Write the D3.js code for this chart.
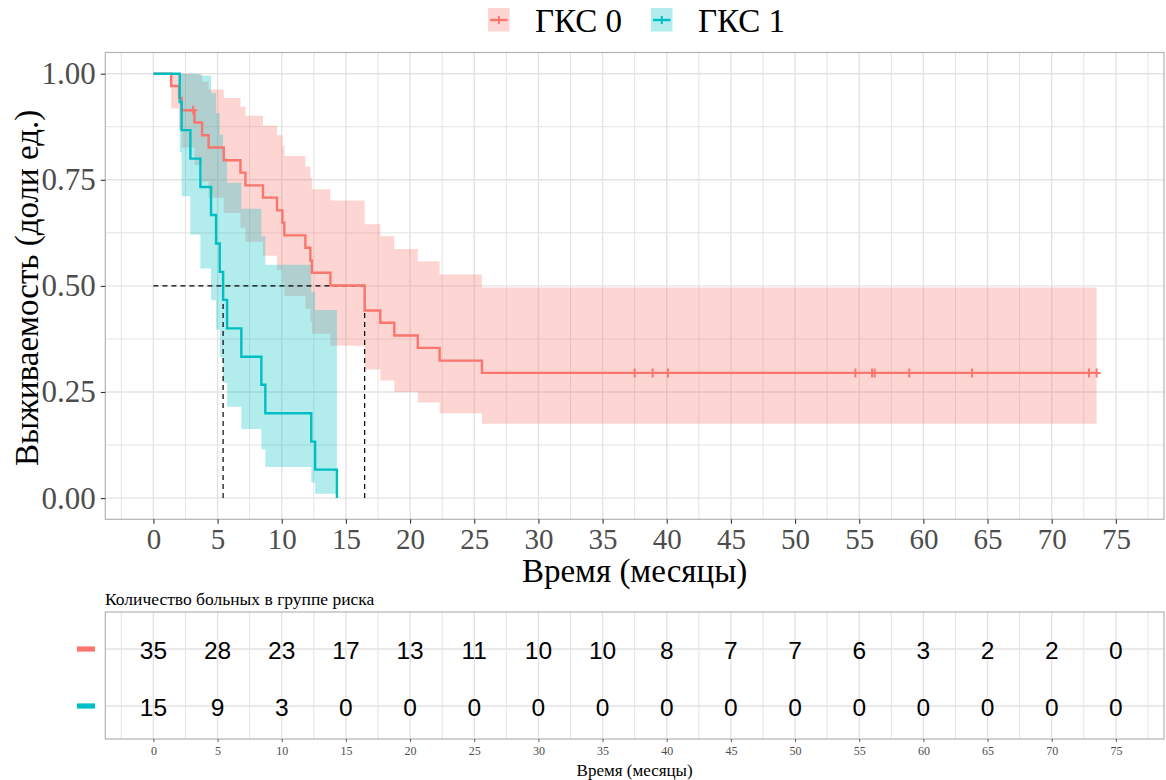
<!DOCTYPE html>
<html>
<head>
<meta charset="utf-8">
<script src="https://cdn.jsdelivr.net/npm/d3@7"></script>
<style>
  body { margin: 0; background: #fff; }
  svg { display: block; }
</style>
</head>
<body>
<svg id="chart" width="1166" height="780"></svg>
<script>
// ---- data ---------------------------------------------------------------
const groups = ["ГКС 0", "ГКС 1"];
const groupColors = ["#F8766D", "#00BFC4"];

// ГКС 0: event times (months), Kaplan–Meier survival and 95% CI per step
const timesG0 = [0, 1.38, 2.0, 2.2, 3.2, 3.79, 4.3, 5.48, 6.78, 7.17, 8.54, 9.63, 10.05, 10.2, 11.84, 12.23, 12.35, 13.79, 16.46, 17.68, 18.77, 20.6, 22.3, 25.6];
const survG0  = [1, 0.971, 0.943, 0.914, 0.885, 0.855, 0.826, 0.796, 0.767, 0.737, 0.708, 0.678, 0.649, 0.619, 0.590, 0.560, 0.531, 0.501, 0.442, 0.413, 0.383, 0.354, 0.324, 0.295];
const lowerG0 = [1, 0.918, 0.869, 0.826, 0.785, 0.746, 0.708, 0.672, 0.637, 0.604, 0.571, 0.538, 0.507, 0.476, 0.446, 0.416, 0.387, 0.359, 0.303, 0.277, 0.250, 0.225, 0.200, 0.175];
const upperG0 = [1, 1, 1, 1, 0.998, 0.981, 0.963, 0.943, 0.922, 0.901, 0.878, 0.855, 0.831, 0.806, 0.781, 0.755, 0.728, 0.701, 0.645, 0.617, 0.587, 0.558, 0.527, 0.496];
const censorG0 = [3.1, 37.5, 38.9, 40.1, 54.7, 56.0, 56.2, 58.9, 63.8, 72.9, 73.5];
const lastTimeG0 = 73.5;

// ГКС 1
const timesG1 = [0, 2.05, 2.2, 2.88, 3.66, 4.49, 4.88, 5.17, 5.43, 5.74, 6.85, 8.41, 8.72, 12.3, 12.6, 14.3];
const survG1  = [1, 0.933, 0.867, 0.800, 0.733, 0.667, 0.600, 0.533, 0.467, 0.400, 0.333, 0.267, 0.200, 0.133, 0.067, 0];
const lowerG1 = [1, 0.815, 0.711, 0.621, 0.541, 0.466, 0.397, 0.332, 0.272, 0.215, 0.163, 0.115, 0.073, 0.037, 0.010, null];
const upperG1 = [1, 1, 1, 1, 0.995, 0.954, 0.907, 0.856, 0.802, 0.743, 0.682, 0.617, 0.550, 0.485, 0.443, null];
const censorG1 = [];
const lastTimeG1 = 14.3;

// number at risk
const riskTimes = [0, 5, 10, 15, 20, 25, 30, 35, 40, 45, 50, 55, 60, 65, 70, 75];
const riskG0 = [35, 28, 23, 17, 13, 11, 10, 10, 8, 7, 7, 6, 3, 2, 2, 0];
const riskG1 = [15, 9, 3, 0, 0, 0, 0, 0, 0, 0, 0, 0, 0, 0, 0, 0];

const xTicks = [0, 5, 10, 15, 20, 25, 30, 35, 40, 45, 50, 55, 60, 65, 70, 75];
const yTicks = [0, 0.25, 0.5, 0.75, 1];
const yTickLabels = ["0.00", "0.25", "0.50", "0.75", "1.00"];

const xTitle = "Время (месяцы)";
const yTitle = "Выживаемость (доли ед.)";
const tableTitle = "Количество больных в группе риска";

// ---- assemble per-group records ------------------------------------------
const curves = [
  { name: groups[0], color: groupColors[0], t: timesG0, s: survG0, lo: lowerG0, hi: upperG0, cens: censorG0, end: lastTimeG0, risk: riskG0 },
  { name: groups[1], color: groupColors[1], t: timesG1, s: survG1, lo: lowerG1, hi: upperG1, cens: censorG1, end: lastTimeG1, risk: riskG1 }
];
curves.forEach(c => {
  c.steps = c.t.map((t, i) => ({ t, s: c.s[i], lo: c.lo[i], hi: c.hi[i] }));
  const lastWithCI = c.steps.filter(d => d.lo != null);
  const tail = lastWithCI[lastWithCI.length - 1];
  c.band = lastWithCI.concat([{ t: c.end, lo: tail.lo, hi: tail.hi }]);
  const lastStep = c.steps[c.steps.length - 1];
  c.line = lastStep.t < c.end ? c.steps.concat([{ t: c.end, s: lastStep.s }]) : c.steps;
  const m = c.steps.find(d => d.s <= 0.5);
  c.median = m ? m.t : null;
  c.survAt = t => { let v = 1; c.steps.forEach(d => { if (d.t <= t) v = d.s; }); return v; };
});

// ---- layout ------------------------------------------------------------
const svg = d3.select("#chart");
const serif = "'Liberation Serif', 'Times New Roman', serif";
const sans = "'Liberation Sans', Arial, sans-serif";
const gridColor = "#E3E3E3";
const borderColor = "#B3B3B3";

const panel = { left: 105.3, right: 1164, top: 52.5, bottom: 519.3 };
const x = d3.scaleLinear().domain([-3.75, 78.75]).range([panel.left, panel.right]);
const y = d3.scaleLinear().domain([-0.05, 1.05]).range([panel.bottom, panel.top]);

// ---- main panel -----------------------------------------------------------
const main = svg.append("g");
svg.append("clipPath").attr("id", "clipMain")
  .append("rect").attr("x", panel.left).attr("y", panel.top)
  .attr("width", panel.right - panel.left).attr("height", panel.bottom - panel.top);

const minorX = xTicks.map(v => v + 2.5).concat([-2.5]);
const minorY = yTicks.slice(0, -1).map(v => v + 0.125);

const grid = main.append("g").attr("clip-path", "url(#clipMain)");
grid.selectAll(".mx").data(minorX).join("line")
  .attr("x1", d => x(d)).attr("x2", d => x(d))
  .attr("y1", panel.top).attr("y2", panel.bottom)
  .attr("stroke", gridColor).attr("stroke-width", 1);
grid.selectAll(".my").data(minorY).join("line")
  .attr("x1", panel.left).attr("x2", panel.right)
  .attr("y1", d => y(d)).attr("y2", d => y(d))
  .attr("stroke", gridColor).attr("stroke-width", 1);
grid.selectAll(".Mx").data(xTicks).join("line")
  .attr("x1", d => x(d)).attr("x2", d => x(d))
  .attr("y1", panel.top).attr("y2", panel.bottom)
  .attr("stroke", gridColor).attr("stroke-width", 1.4);
grid.selectAll(".My").data(yTicks).join("line")
  .attr("x1", panel.left).attr("x2", panel.right)
  .attr("y1", d => y(d)).attr("y2", d => y(d))
  .attr("stroke", gridColor).attr("stroke-width", 1.4);

const plot = main.append("g").attr("clip-path", "url(#clipMain)");

// confidence bands
const area = d3.area().curve(d3.curveStepAfter)
  .x(d => x(d.t)).y0(d => y(d.lo)).y1(d => y(d.hi));
plot.selectAll(".band").data(curves).join("path")
  .attr("d", c => area(c.band))
  .attr("fill", c => c.color).attr("fill-opacity", 0.3);

// median reference lines
const medians = curves.map(c => c.median).filter(m => m != null);
const dashG = plot.append("g").attr("stroke", "#000").attr("stroke-width", 1.2)
  .attr("stroke-dasharray", "5,4").attr("fill", "none");
dashG.append("line")
  .attr("x1", x(0)).attr("x2", x(d3.max(medians)))
  .attr("y1", y(0.5)).attr("y2", y(0.5));
dashG.selectAll(".vm").data(medians).join("line")
  .attr("x1", d => x(d)).attr("x2", d => x(d))
  .attr("y1", y(0.5)).attr("y2", y(0));

// survival step lines
const line = d3.line().curve(d3.curveStepAfter).x(d => x(d.t)).y(d => y(d.s));
plot.selectAll(".surv").data(curves).join("path")
  .attr("d", c => line(c.line))
  .attr("fill", "none").attr("stroke", c => c.color).attr("stroke-width", 2.4);

// censoring marks
curves.forEach(c => {
  plot.selectAll(null).data(c.cens).join("path")
    .attr("d", t => { const cx = x(t), cy = y(c.survAt(t)); return `M${cx - 4},${cy}H${cx + 4}M${cx},${cy - 4.5}V${cy + 4.5}`; })
    .attr("stroke", c.color).attr("stroke-width", 2).attr("fill", "none");
});

// panel border
main.append("rect")
  .attr("x", panel.left).attr("y", panel.top)
  .attr("width", panel.right - panel.left).attr("height", panel.bottom - panel.top)
  .attr("fill", "none").attr("stroke", borderColor).attr("stroke-width", 1.2);

// axes
const xAxis = main.append("g").attr("transform", `translate(0,${panel.bottom})`)
  .call(d3.axisBottom(x).tickValues(xTicks).tickSize(4.5).tickPadding(5));
const yAxis = main.append("g").attr("transform", `translate(${panel.left},0)`)
  .call(d3.axisLeft(y).tickValues(yTicks).tickSize(4.5).tickPadding(5)
    .tickFormat((d, i) => yTickLabels[i]));
[xAxis, yAxis].forEach(a => {
  a.select(".domain").remove();
  a.selectAll(".tick line").attr("stroke", "#333").attr("stroke-width", 1.1);
  a.selectAll(".tick text").attr("fill", "#4D4D4D").style("font-family", serif);
});
yAxis.selectAll(".tick text").style("font-size", "31px");
xAxis.selectAll(".tick text").style("font-size", "29px");

main.append("text")
  .attr("x", x(37.5)).attr("y", 582)
  .attr("text-anchor", "middle")
  .style("font-family", serif).style("font-size", "33px").attr("fill", "#000")
  .text(xTitle);
main.append("text")
  .attr("transform", `translate(38,${(panel.top + panel.bottom) / 2 + 2}) rotate(-90)`)
  .attr("text-anchor", "middle")
  .style("font-family", serif).style("font-size", "33px").attr("fill", "#000")
  .text(yTitle);

// ---- legend -----------------------------------------------------------------
const legendPos = [488, 651];
const legend = svg.append("g");
curves.forEach((c, i) => {
  const g = legend.append("g").attr("transform", `translate(${legendPos[i]},8)`);
  g.append("rect").attr("width", 21.5).attr("height", 23.5)
    .attr("fill", c.color).attr("fill-opacity", 0.3);
  g.append("path").attr("d", "M2,12H19.5")
    .attr("stroke", c.color).attr("stroke-width", 2.4);
  g.append("path").attr("d", "M6.8,12H14.8M10.8,8V16")
    .attr("stroke", c.color).attr("stroke-width", 2);
  g.append("text").attr("x", 47).attr("y", 23.5)
    .style("font-family", serif).style("font-size", "33px").attr("fill", "#000")
    .text(c.name);
});

// ---- risk table --------------------------------------------------------------
const tpanel = { left: 105.3, right: 1164, top: 612, bottom: 739 };
const yr = d3.scalePoint().domain(groups).range([649, 706]);
const table = svg.append("g");
svg.append("clipPath").attr("id", "clipTable")
  .append("rect").attr("x", tpanel.left).attr("y", tpanel.top)
  .attr("width", tpanel.right - tpanel.left).attr("height", tpanel.bottom - tpanel.top);

table.append("text").attr("x", 105).attr("y", 605)
  .style("font-family", serif).style("font-size", "17.5px").attr("fill", "#000")
  .text(tableTitle);

const tgrid = table.append("g").attr("clip-path", "url(#clipTable)");
tgrid.selectAll(".tmx").data(minorX).join("line")
  .attr("x1", d => x(d)).attr("x2", d => x(d))
  .attr("y1", tpanel.top).attr("y2", tpanel.bottom)
  .attr("stroke", gridColor).attr("stroke-width", 1);
tgrid.selectAll(".tMx").data(xTicks).join("line")
  .attr("x1", d => x(d)).attr("x2", d => x(d))
  .attr("y1", tpanel.top).attr("y2", tpanel.bottom)
  .attr("stroke", gridColor).attr("stroke-width", 1.4);
tgrid.selectAll(".tMy").data(groups).join("line")
  .attr("x1", tpanel.left).attr("x2", tpanel.right)
  .attr("y1", d => yr(d)).attr("y2", d => yr(d))
  .attr("stroke", gridColor).attr("stroke-width", 1.4);

curves.forEach(c => {
  table.selectAll(null).data(riskTimes).join("text")
    .attr("x", t => x(t)).attr("y", yr(c.name) + 1)
    .attr("text-anchor", "middle").attr("dominant-baseline", "central")
    .style("font-family", sans).style("font-size", "24.5px").attr("fill", "#000")
    .text((t, i) => c.risk[i]);
  table.append("rect")
    .attr("x", 77).attr("y", yr(c.name) - 2.6)
    .attr("width", 18).attr("height", 5.2)
    .attr("fill", c.color);
});

table.append("rect")
  .attr("x", tpanel.left).attr("y", tpanel.top)
  .attr("width", tpanel.right - tpanel.left).attr("height", tpanel.bottom - tpanel.top)
  .attr("fill", "none").attr("stroke", borderColor).attr("stroke-width", 1.2);

const txAxis = table.append("g").attr("transform", `translate(0,${tpanel.bottom})`)
  .call(d3.axisBottom(x).tickValues(xTicks).tickSize(3).tickPadding(4));
txAxis.select(".domain").remove();
txAxis.selectAll(".tick line").attr("stroke", "#333").attr("stroke-width", 0.8);
txAxis.selectAll(".tick text").attr("fill", "#4D4D4D").style("font-family", serif).style("font-size", "12px");

table.append("text")
  .attr("x", x(37.5)).attr("y", 776)
  .attr("text-anchor", "middle")
  .style("font-family", serif).style("font-size", "17px").attr("fill", "#000")
  .text(xTitle);
</script>
</body>
</html>
